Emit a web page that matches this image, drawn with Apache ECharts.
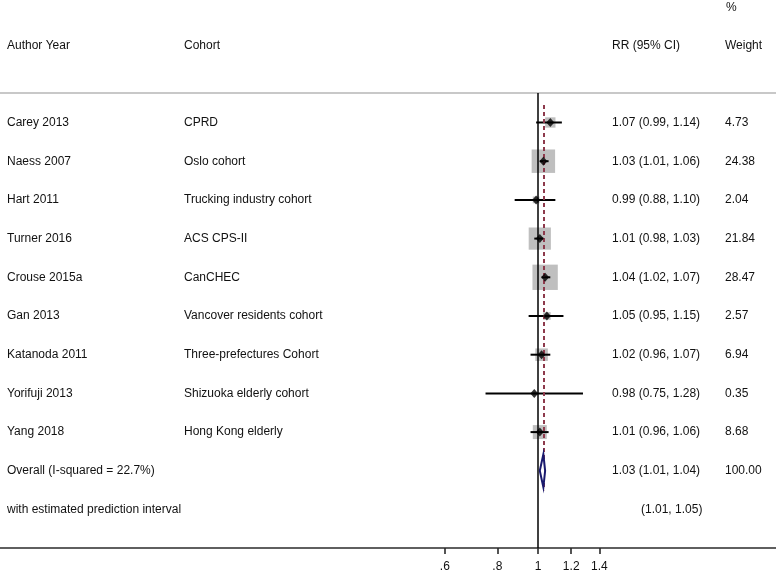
<!DOCTYPE html>
<html><head><meta charset="utf-8">
<script src="https://cdn.jsdelivr.net/npm/echarts@6/dist/echarts.min.js"></script>
<style>html,body{margin:0;padding:0;background:#fff}#c{width:776px;height:575px}</style>
</head><body><div id="c"></div>
<script>
// ---- data ----
const authors = ['Carey 2013','Naess 2007','Hart 2011','Turner 2016','Crouse 2015a','Gan 2013','Katanoda 2011','Yorifuji 2013','Yang 2018'];
const cohorts = ['CPRD','Oslo cohort','Trucking industry cohort','ACS CPS-II','CanCHEC','Vancover residents cohort','Three-prefectures Cohort','Shizuoka elderly cohort','Hong Kong elderly'];
const rr = [1.07,1.03,0.99,1.01,1.04,1.05,1.02,0.98,1.01];
const lower = [0.99,1.01,0.88,0.98,1.02,0.95,0.96,0.75,0.96];
const upper = [1.14,1.06,1.10,1.03,1.07,1.15,1.07,1.28,1.06];
const weights = [4.73,24.38,2.04,21.84,28.47,2.57,6.94,0.35,8.68];
const overallLabel = 'Overall (I-squared = 22.7%)';
const overallEst = [1.03, 1.01, 1.04];
const overallWeight = 100.00;
const predLabel = 'with estimated prediction interval';
const predInterval = [1.01, 1.05];
const headers = ['Author Year','Cohort','RR (95% CI)','Weight'];
const tickValues = [0.6,0.8,1,1.2,1.4];
const tickLabels = ['.6','.8','1','1.2','1.4'];

// ---- layout ----
const FONT = '12px "Liberation Sans", Arial, sans-serif';
const TXT = '#111';
const colX = [7, 184, 612, 725];
const f2 = v => v.toFixed(2);

const tableRows = authors.map((a,i)=>({a:a, c:cohorts[i], r:f2(rr[i])+' ('+f2(lower[i])+', '+f2(upper[i])+')', w:f2(weights[i])}));
tableRows.push({a:overallLabel, c:'', r:f2(overallEst[0])+' ('+f2(overallEst[1])+', '+f2(overallEst[2])+')', w:f2(overallWeight)});
tableRows.push({a:predLabel, c:'', r:'('+f2(predInterval[0])+', '+f2(predInterval[1])+')', w:'', rx:641});
const overallRow = authors.length;

const chart = echarts.init(document.getElementById('c'), null, {renderer:'canvas'});
chart.setOption({
  animation:false,
  backgroundColor:'#fff',
  grid:{left:0, right:0, top:93, bottom:27},
  xAxis:{
    type:'log', logBase:Math.E, min:0.05229, max:3.690, position:'bottom',
    axisLine:{show:true, onZero:false, lineStyle:{color:'#2a2a2a', width:1.6}},
    axisTick:{show:true, customValues:tickValues, length:6, lineStyle:{color:'#2a2a2a', width:1.6}},
    axisLabel:{customValues:tickValues, margin:13, color:TXT, fontSize:12, fontFamily:'Liberation Sans',
      formatter:function(v){let b=0;for(let k=1;k<tickValues.length;k++){if(Math.abs(tickValues[k]-v)<Math.abs(tickValues[b]-v))b=k;}return tickLabels[b];}},
    splitLine:{show:false}, minorTick:{show:false}
  },
  yAxis:{type:'value', inverse:true, min:-0.762, max:10.995, show:false},
  graphic:[
    {type:'line', shape:{x1:0,y1:93,x2:776,y2:93}, style:{stroke:'#c8c8c8', lineWidth:2}, z:1},
    {type:'text', x:colX[0], y:45.5, style:{text:headers[0], font:FONT, fill:TXT, verticalAlign:'middle'}},
    {type:'text', x:colX[1], y:45.5, style:{text:headers[1], font:FONT, fill:TXT, verticalAlign:'middle'}},
    {type:'text', x:colX[2], y:45.5, style:{text:headers[2], font:FONT, fill:TXT, verticalAlign:'middle'}},
    {type:'text', x:colX[3], y:45.5, style:{text:headers[3], font:FONT, fill:TXT, verticalAlign:'middle'}},
    {type:'text', x:colX[3]+1, y:7.5, style:{text:'%', font:FONT, fill:TXT, verticalAlign:'middle'}}
  ],
  series:[
    { // weight boxes + reference lines
      type:'custom', z:2, clip:false,
      data: rr.map((v,i)=>[v,i,weights[i]]),
      renderItem:function(p, api){
        const c = api.coord([api.value(0), api.value(1)]);
        const s = 4.75*Math.sqrt(api.value(2));
        return {type:'rect', shape:{x:c[0]-s/2, y:c[1]-s/2, width:s, height:s}, style:{fill:'#bfbfbf'}};
      },
      markLine:{
        silent:true, symbol:'none', label:{show:false},
        data:[
          {xAxis:1, lineStyle:{color:'#000', width:1.5, type:'solid'}},
          [{coord:[overallEst[0], -0.45]}, {coord:[overallEst[0], overallRow+0.5], lineStyle:{color:'#8e3a4c', width:2, type:[4,3]}}]
        ],
        lineStyle:{color:'#8e3a4c', width:2, type:[4,3]}
      }
    },
    { // CI lines
      type:'custom', z:4, clip:false,
      data: rr.map((v,i)=>[lower[i], upper[i], i]),
      renderItem:function(p, api){
        const a = api.coord([api.value(0), api.value(2)]);
        const b = api.coord([api.value(1), api.value(2)]);
        return {type:'line', shape:{x1:a[0], y1:a[1], x2:b[0], y2:b[1]}, style:{stroke:'#000', lineWidth:2}};
      }
    },
    { // point estimates
      type:'scatter', z:5, symbol:'diamond', symbolSize:[8,9],
      itemStyle:{color:'#000'},
      data: rr.map((v,i)=>[v,i])
    },
    { // overall diamond
      type:'custom', z:6, clip:false,
      data:[[overallEst[0], overallEst[1], overallEst[2], overallRow]],
      renderItem:function(p, api){
        const row = api.value(3);
        const l = api.coord([api.value(1), row]);
        const r = api.coord([api.value(2), row]);
        const m = api.coord([api.value(0), row]);
        const h = 16.5;
        return {type:'polygon', shape:{points:[[l[0],m[1]],[m[0],m[1]-h],[r[0],m[1]],[m[0],m[1]+h]]}, style:{fill:'#fff', stroke:'#1a1a6e', lineWidth:2}};
      }
    },
    { // table text
      type:'custom', z:7, clip:false,
      data: tableRows.map((t,i)=>[1,i]),
      renderItem:function(p, api){
        const i = api.value(1);
        const t = tableRows[i];
        const y = api.coord([1, i])[1];
        const mk = (x, s)=>({type:'text', x:x, y:y, style:{text:s, font:FONT, fill:TXT, verticalAlign:'middle', align:'left'}});
        return {type:'group', children:[mk(colX[0], t.a), mk(colX[1], t.c), mk(t.rx||colX[2], t.r), mk(colX[3], t.w)]};
      }
    }
  ]
});
</script>
</body></html>
